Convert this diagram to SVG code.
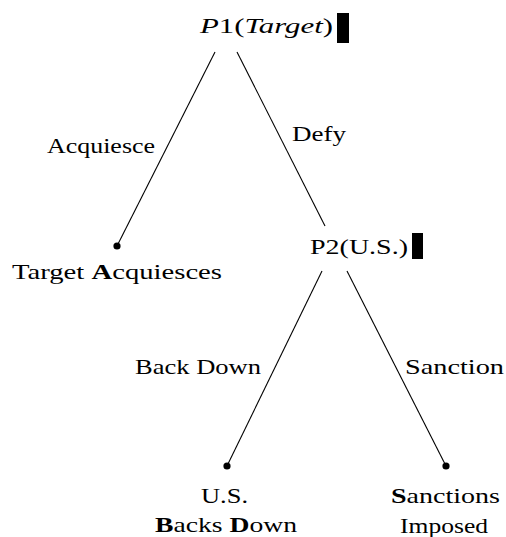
<svg xmlns="http://www.w3.org/2000/svg" width="506" height="537" viewBox="0 0 506 537" font-family="Liberation Serif, DejaVu Serif, serif">
<style>
text{font-family:Liberation Serif, DejaVu Serif, serif;font-size:22px;fill:#000}
.it{font-style:italic}
.b{font-weight:bold}
.edge{stroke:#000;stroke-width:1.1;fill:none}
.dot{fill:#000}
</style>
<rect width="506" height="537" fill="#fff"/>
<g id="connectors">
<line class="edge" x1="215" y1="52" x2="117" y2="246"/>
<line class="edge" x1="237" y1="52" x2="325" y2="226"/>
<line class="edge" x1="322" y1="271" x2="227" y2="466"/>
<line class="edge" x1="347" y1="271" x2="446" y2="466"/>
<text x="47" y="153" textLength="108" lengthAdjust="spacingAndGlyphs">Acquiesce</text>
<text x="292" y="141" textLength="54" lengthAdjust="spacingAndGlyphs">Defy</text>
<text x="135" y="374" textLength="126" lengthAdjust="spacingAndGlyphs">Back Down</text>
<text x="405" y="374" textLength="99" lengthAdjust="spacingAndGlyphs">Sanction</text>
</g>
<g id="p1">
<text x="200" y="33" textLength="133" lengthAdjust="spacingAndGlyphs"><tspan class="it">P</tspan>1(<tspan class="it">Target</tspan>)</text>
<rect x="337" y="13" width="12" height="30"/>
</g>
<g id="p2">
<text x="310" y="254" textLength="98" lengthAdjust="spacingAndGlyphs">P2(U.S.)</text>
<rect x="412" y="233" width="11" height="26"/>
</g>
<g id="target-acquiesces">
<circle class="dot" cx="117" cy="246" r="3.6"/>
<text x="12" y="279" textLength="210" lengthAdjust="spacingAndGlyphs">Target <tspan class="b">A</tspan>cquiesces</text>
</g>
<g id="us-backs-down">
<circle class="dot" cx="227" cy="466" r="3.6"/>
<text x="201" y="503" textLength="47" lengthAdjust="spacingAndGlyphs">U.S.</text>
<text x="155" y="532" textLength="142" lengthAdjust="spacingAndGlyphs"><tspan class="b">B</tspan>acks <tspan class="b">D</tspan>own</text>
</g>
<g id="sanctions-imposed">
<circle class="dot" cx="446" cy="466" r="3.6"/>
<text x="391" y="503" textLength="109" lengthAdjust="spacingAndGlyphs"><tspan class="b">S</tspan>anctions</text>
<text x="400" y="533" textLength="88" lengthAdjust="spacingAndGlyphs">Imposed</text>
</g>
</svg>
